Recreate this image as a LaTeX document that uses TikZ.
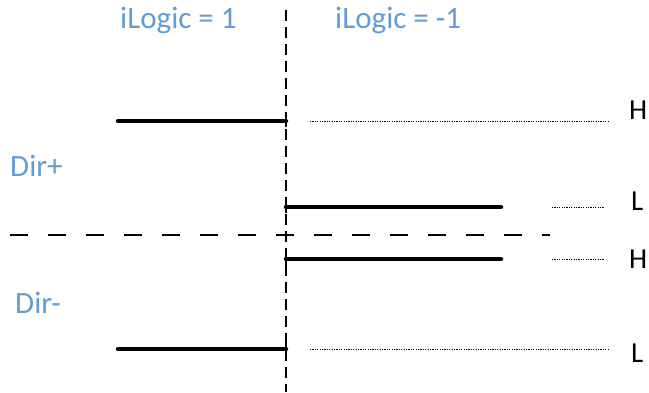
\documentclass[tikz,border=0pt]{standalone}
\usepackage{fontspec}
\setmainfont{Carlito}
\definecolor{lblue}{RGB}{100,155,210}
\begin{document}
\begin{tikzpicture}[x=1pt,y=-1pt,
  blue label/.style={text=lblue,font=\fontsize{31}{34}\selectfont,inner sep=0pt},
  level label/.style={text=black,font=\fontsize{29}{32}\selectfont,inner sep=0pt},
  signal/.style={line width=4.5pt,line cap=round},
  guide/.style={line width=0.8pt,dash pattern=on 1.2pt off 1.2pt},
  axis/.style={line width=1.2pt,dash pattern=on 11pt off 6pt},
  split/.style={line width=1.2pt,dash pattern=on 18pt off 20pt}]
\useasboundingbox (0,0) rectangle (649,392);
% labels
\node[blue label,anchor=west] (l1) at (120,20) {iLogic = 1};
\node[blue label,anchor=west] (l2) at (335,20) {iLogic = -1};
\node[blue label,anchor=west] (dp) at (10,166) {Dir+};
\node[blue label,anchor=west] (dm) at (15,303) {Dir-};
\node[level label,anchor=west] (h1) at (629,110) {H};
\node[level label,anchor=west] (lo1) at (631,201) {L};
\node[level label,anchor=west] (h2) at (629,259) {H};
\node[level label,anchor=west] (lo2) at (631,353) {L};
% axes
\draw[axis] (286,10) -- (286,392);
\draw[split] (10,235) -- (550,235);
% signals
\draw[signal] (118,121) -- (286,121);
\draw[line width=1.2pt] (286,115) -- (286,127);
\draw[signal] (286,207) -- (501,207);
\draw[line width=1.2pt] (286,201) -- (286,213);
\draw[signal] (286,259) -- (501,259);
\draw[line width=1.2pt] (286,253) -- (286,265);
\draw[signal] (118,349) -- (286,349);
\draw[line width=1.2pt] (286,343) -- (286,355);
% dotted guides
\draw[guide] (310,121) -- (608,121);
\draw[guide] (552,207) -- (604,207);
\draw[guide] (552,259) -- (604,259);
\draw[guide] (310,349) -- (608,349);
\end{tikzpicture}
\end{document}
